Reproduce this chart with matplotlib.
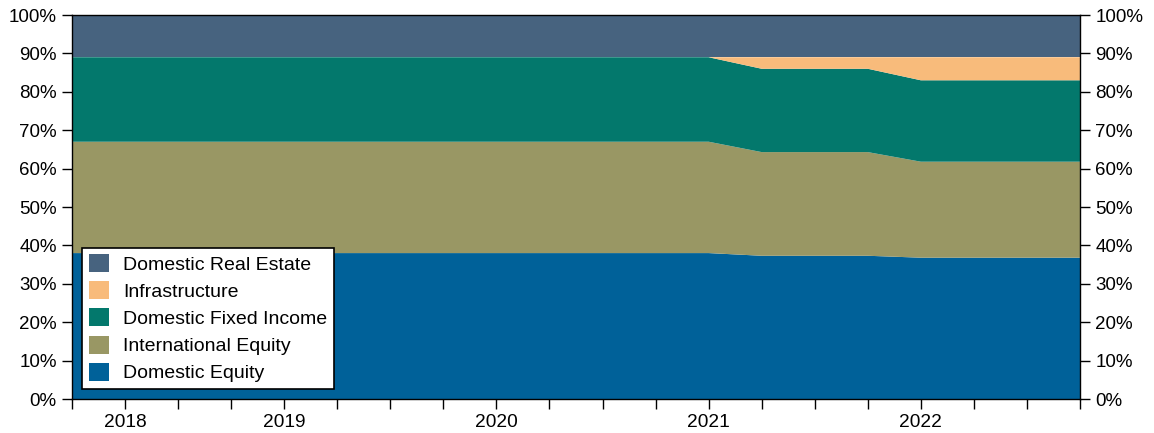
import matplotlib
matplotlib.use("Agg")
import matplotlib.pyplot as plt
import numpy as np

plt.rcParams['font.family'] = ['Liberation Sans', 'DejaVu Sans']

# Quarterly periods (20 points), year labels at selected quarters
quarters = list(range(20))
year_labels = {1: "2018", 4: "2019", 8: "2020", 12: "2021", 16: "2022"}

domestic_equity = [38, 38, 38, 38, 38, 38, 38, 38, 38, 38, 38, 38, 38,
                   37.3, 37.3, 37.3, 36.8, 36.8, 36.8, 36.8]
international_equity = [29, 29, 29, 29, 29, 29, 29, 29, 29, 29, 29, 29, 29,
                        27, 27, 27, 25, 25, 25, 25]
domestic_fixed_income = [22, 22, 22, 22, 22, 22, 22, 22, 22, 22, 22, 22, 22,
                         21.7, 21.7, 21.7, 21.2, 21.2, 21.2, 21.2]
infrastructure = [0, 0, 0, 0, 0, 0, 0, 0, 0, 0, 0, 0, 0,
                  3, 3, 3, 6, 6, 6, 6]
domestic_real_estate = [11, 11, 11, 11, 11, 11, 11, 11, 11, 11, 11, 11, 11,
                        11, 11, 11, 11, 11, 11, 11]

labels = ["Domestic Equity", "International Equity", "Domestic Fixed Income",
          "Infrastructure", "Domestic Real Estate"]
colors = ["#006199", "#999764", "#03786C", "#F8BB7B", "#47637F"]

fig = plt.figure(figsize=(11.54, 4.33), dpi=100)
ax = fig.add_axes([72 / 1154, 1 - 399 / 433, (1080 - 72) / 1154, (399 - 15) / 433])

ax.stackplot(quarters, domestic_equity, international_equity,
             domestic_fixed_income, infrastructure, domestic_real_estate,
             labels=labels, colors=colors, linewidth=0)

ax.set_xlim(0, 19)
ax.set_ylim(0, 100)

ax.set_xticks(quarters)
ax.set_xticklabels([year_labels.get(q, "") for q in quarters])
ax.tick_params(axis="x", length=7, width=1, labelsize=13.8, pad=4)

yt = np.arange(0, 101, 10)
ax.set_yticks(yt)
ax.set_yticklabels([f"{v}%" for v in yt])
ax.tick_params(axis="y", length=7, width=1, labelsize=13.5, right=True,
               labelright=True, pad=4)

for s in ax.spines.values():
    s.set_linewidth(1)

handles, lbls = ax.get_legend_handles_labels()
leg = ax.legend(handles[::-1], lbls[::-1], loc="lower left",
                bbox_to_anchor=(10 / 1008, 10 / 384), borderaxespad=0,
                fontsize=14, frameon=True,
                fancybox=False, edgecolor="black", framealpha=1,
                handlelength=1.05, handleheight=1.05, labelspacing=0.38,
                borderpad=0.35, handletextpad=0.7)
leg.get_frame().set_linewidth(1.2)

fig.savefig("out.png", dpi=100)
